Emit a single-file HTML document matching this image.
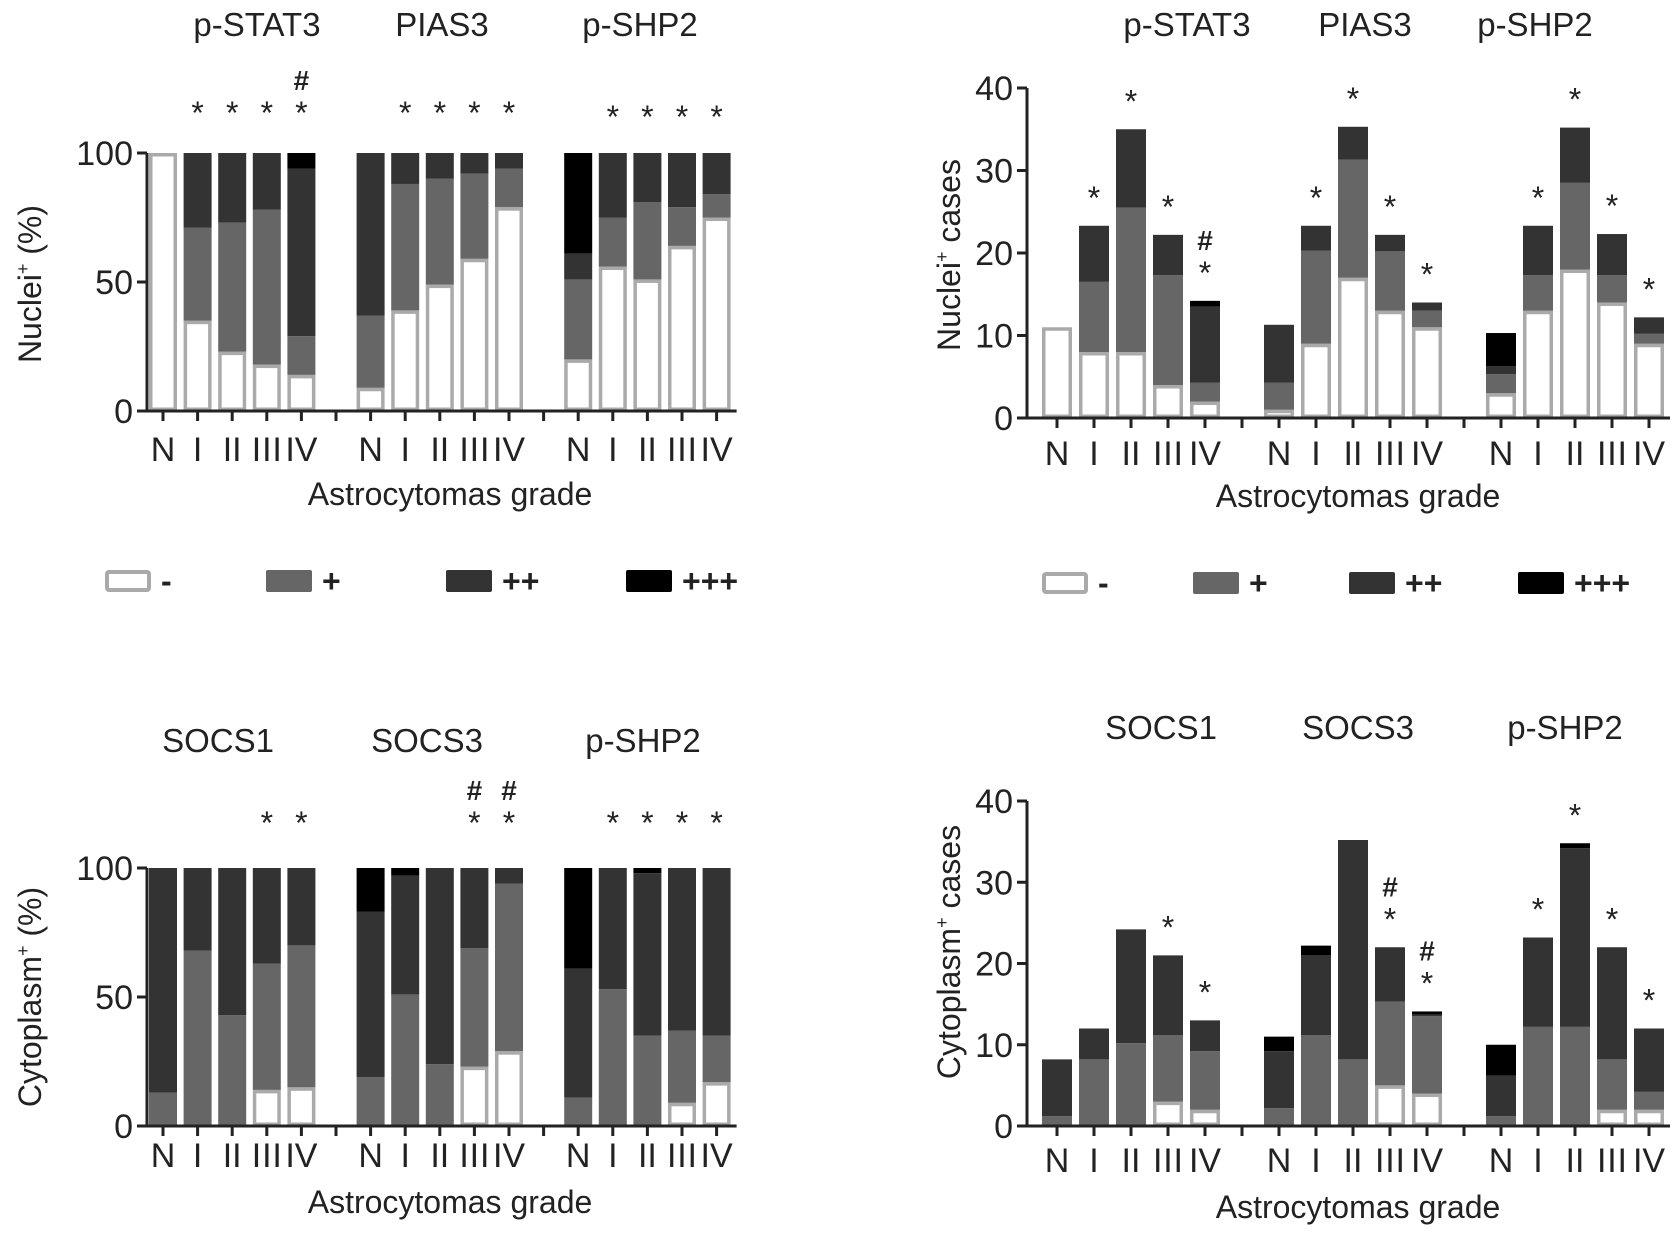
<!DOCTYPE html>
<html><head><meta charset="utf-8">
<style>
html,body{margin:0;padding:0;background:#fff;}
svg{display:block;font-family:"Liberation Sans",Arial,sans-serif;}
</style></head>
<body>
<svg id="chart" width="1680" height="1236" viewBox="0 0 1680 1236" xmlns="http://www.w3.org/2000/svg"></svg>
<script>
// ---- data ----
const grades = ["N","I","II","III","IV"];
const levels = ["-","+","++","+++"];
const nucTitles = ["p-STAT3","PIAS3","p-SHP2"];
const cytTitles = ["SOCS1","SOCS3","p-SHP2"];
// stacked values per bar: [-, +, ++, +++]
const nucPct = [
 [[100,0,0,0],[35,36,29,0],[23,50,27,0],[18,60,22,0],[14,15,65,6]],
 [[9,28,63,0],[39,49,12,0],[49,41,10,0],[59,33,8,0],[79,15,6,0]],
 [[20,31,10,39],[56,19,25,0],[51,30,19,0],[64,15,21,0],[75,9,16,0]]
];
const nucCases = [
 [[11,0,0,0],[8,8.5,6.8,0],[8,17.5,9.5,0],[4,13.3,4.9,0],[2,2.3,9.2,0.7]],
 [[1,3.3,7,0],[9,11.3,3,0],[17,14.3,4,0],[13,7.2,2,0],[11,2,1,0]],
 [[3,2.3,1,4],[13,4.3,6,0],[18,10.5,6.7,0],[14,3.3,5,0],[9,1.2,2,0]]
];
const cytPct = [
 [[0,13,87,0],[0,68,32,0],[0,43,57,0],[14,49,37,0],[15,55,30,0]],
 [[0,19,64,17],[0,51,46,3],[0,24,76,0],[23,46,31,0],[29,65,6,0]],
 [[0,11,50,39],[0,53,47,0],[0,35,63,2],[9,28,63,0],[17,18,65,0]]
];
const cytCases = [
 [[0,1.2,7,0],[0,8.2,3.8,0],[0,10.2,14,0],[3,8.2,9.8,0],[2,7.2,3.8,0]],
 [[0,2.2,7,1.8],[0,11.2,9.8,1.2],[0,8.2,27,0],[5,10.3,6.7,0],[4,9.5,0.2,0.4]],
 [[0,1.2,5,3.8],[0,12.2,11,0],[0,12.2,22,0.6],[2,6.2,13.8,0],[2,2.2,7.8,0]]
];
// significance marks per group, per grade ("" none)
const nucPctMarks = [["","*","*","*","#*"],["","*","*","*","*"],["","*","*","*","*"]];
const nucCaseMarks = [["","*","*","*","#*"],["","*","*","*","*"],["","*","*","*","*"]];
const cytPctMarks = [["","","","*","*"],["","","","#*","#*"],["","*","*","*","*"]];
const cytCaseMarks = [["","","","*","*"],["","","","#*","#*"],["","*","*","*","*"]];
const pctTicks = [0,50,100];
const caseTicks = [0,10,20,30,40];

const fills = ["#ffffff","#666666","#333333","#000000"];
const svg = document.getElementById('chart');
const NS = "http://www.w3.org/2000/svg";
function el(tag, attrs, parent, text){
  const e = document.createElementNS(NS, tag);
  for (const k in attrs) e.setAttribute(k, attrs[k]);
  if (text !== undefined) e.textContent = text;
  (parent||svg).appendChild(e);
  return e;
}

function panel(cfg){
  const g = el('g', {});
  
  
  const y = v => cfg.y0 - (v / cfg.max) * (cfg.y0 - cfg.yTop);
  const xs = i => cfg.x0 + i * cfg.step;
  cfg.data.forEach((grp, gi) => {
    grp.forEach((vals, bi) => {
      const slot = gi * 6 + bi;
      const cx = xs(slot);
      let acc = 0;
      vals.forEach((v, li) => {
        if (v <= 0) return;
        const yb = y(acc), yt = y(acc + v);
        acc += v;
        const r = el('rect', {x: cx - cfg.bw/2, y: yt, width: cfg.bw, height: Math.max(0, yb - yt), fill: fills[li]}, g);
        if (li === 0) { r.setAttribute('stroke', '#aaaaaa'); r.setAttribute('stroke-width', '3.5'); r.setAttribute('x', cx - cfg.bw/2 + 1.75); r.setAttribute('width', cfg.bw - 3.5); r.setAttribute('y', yt + 1.75); r.setAttribute('height', Math.max(0, yb - yt - 3.5)); }
        
        
      });
      el('line', {x1: cx, x2: cx, y1: cfg.y0, y2: cfg.y0 + 10, stroke: '#222', 'stroke-width': 3}, g);
      const t = el('text', {x: cx, y: cfg.tickY, 'font-size': 34, 'text-anchor': 'middle', fill: '#222', 'textLength': grades[bi].length > 2 ? 30 : null}, g, grades[bi]);
      if (grades[bi].length < 3) t.removeAttribute('textLength');
      
      
      const m = cfg.marks[gi][bi];
      if (m) {
        const total = vals.reduce((a, b) => a + b, 0);
        const sy = cfg.fixedStarY ? cfg.fixedStarY + (gi === 2 ? cfg.g3off : 0) : y(total) - 34;
        const s = el('text', {x: cx, y: sy + 17, 'font-size': 32, 'text-anchor': 'middle', fill: '#222'}, g, '*');
        
        
        if (m.indexOf('#') >= 0) {
          const h = el('text', {x: cx, y: sy - 17, 'font-size': 28, 'font-weight': 'bold', 'text-anchor': 'middle', fill: '#222'}, g, '#');
          
          
        }
      }
    });
    if (gi < 2) { const sx = xs(gi * 6 + 5); el('line', {x1: sx, x2: sx, y1: cfg.y0, y2: cfg.y0 + 10, stroke: '#222', 'stroke-width': 3}, g); }
    const tt = el('text', {x: cfg.titleX[gi], y: cfg.titleY, 'font-size': 33, 'text-anchor': 'middle', fill: '#222'}, g, cfg.groups[gi]);
    
    
  });
  el('line', {x1: cfg.ax, x2: cfg.ax, y1: cfg.yTop, y2: cfg.y0 + 1.5, stroke: '#222', 'stroke-width': 3}, g);
  el('line', {x1: cfg.ax, x2: xs(16) + cfg.bw/2 + 6, y1: cfg.y0, y2: cfg.y0, stroke: '#222', 'stroke-width': 3}, g);
  cfg.ticks.forEach(tv => {
    el('line', {x1: cfg.ax - 10, x2: cfg.ax, y1: y(tv), y2: y(tv), stroke: '#222', 'stroke-width': 3}, g);
    const tl = el('text', {x: cfg.ax - 14, y: y(tv) + 12, 'font-size': 34, 'text-anchor': 'end', fill: '#222'}, g, String(tv));
    
    
  });
  const xt = el('text', {x: cfg.xlabX, y: cfg.xlabY, 'font-size': 32, 'text-anchor': 'middle', fill: '#222'}, g, 'Astrocytomas grade');
  
  
  const yt = el('text', {x: 0, y: 0, 'font-size': 32, 'text-anchor': 'middle', fill: '#222', transform: 'translate(' + cfg.ylabX + ',' + cfg.ylabY + ') rotate(-90)'}, g);
  
  
  el('tspan', {}, yt, cfg.ylab[0]);
  el('tspan', {'font-size': 18, dy: -12}, yt, '+');
  el('tspan', {dy: 12}, yt, cfg.ylab[1]);
}

panel({name:'nuclei-percent-chart', data: nucPct, marks: nucPctMarks, groups: nucTitles, max:100, ticks: pctTicks,
  x0:163, step:34.6, bw:28, ax:147, y0:411, yTop:153, tickY:461, titleY:36, titleX:[257,442,640],
  fixedStarY:107, g3off:4, xlabX:450, xlabY:505, ylabX:41, ylabY:284, ylab:['Nuclei',' (%)']});
panel({name:'nuclei-cases-chart', data: nucCases, marks: nucCaseMarks, groups: nucTitles, max:40, ticks: caseTicks,
  x0:1057, step:37, bw:30, ax:1027, y0:418, yTop:88, tickY:465, titleY:36, titleX:[1187,1365,1535],
  xlabX:1358, xlabY:507, ylabX:960, ylabY:255, ylab:['Nuclei',' cases']});
panel({name:'cytoplasm-percent-chart', data: cytPct, marks: cytPctMarks, groups: cytTitles, max:100, ticks: pctTicks,
  x0:163, step:34.6, bw:28, ax:147, y0:1126, yTop:868, tickY:1167, titleY:752, titleX:[218,427,643],
  fixedStarY:817, g3off:0, xlabX:450, xlabY:1213, ylabX:41, ylabY:997, ylab:['Cytoplasm',' (%)']});
panel({name:'cytoplasm-cases-chart', data: cytCases, marks: cytCaseMarks, groups: cytTitles, max:40, ticks: caseTicks,
  x0:1057, step:37, bw:30, ax:1027, y0:1126, yTop:801, tickY:1172, titleY:739, titleX:[1161,1358,1565],
  xlabX:1358, xlabY:1218, ylabX:960, ylabY:952, ylab:['Cytoplasm',' cases']});

const legendBoxesL = [105,266,446,626];
const legendBoxesR = [1042,1193,1349,1518];
function legend(xs, cy, nm){
  const g = el('g', {});
  
  
  xs.forEach((x, i) => {
    const r = el('rect', {x: x, y: cy - 11, width: 46, height: 22, fill: fills[i], rx: 2}, g);
    if (i === 0) { r.setAttribute('stroke', '#aaaaaa'); r.setAttribute('stroke-width', '4'); r.setAttribute('x', x + 2); r.setAttribute('width', 42); r.setAttribute('y', cy - 9); r.setAttribute('height', 18); }
    
    
    const t = el('text', {x: x + 56, y: cy + 11, 'font-size': 32, 'font-weight': 'bold', fill: '#222'}, g, levels[i]);
    
    
  });
}
legend(legendBoxesL, 581, 'legend-nuclei-percent');
legend(legendBoxesR, 583, 'legend-nuclei-cases');
</script>
</body></html>
